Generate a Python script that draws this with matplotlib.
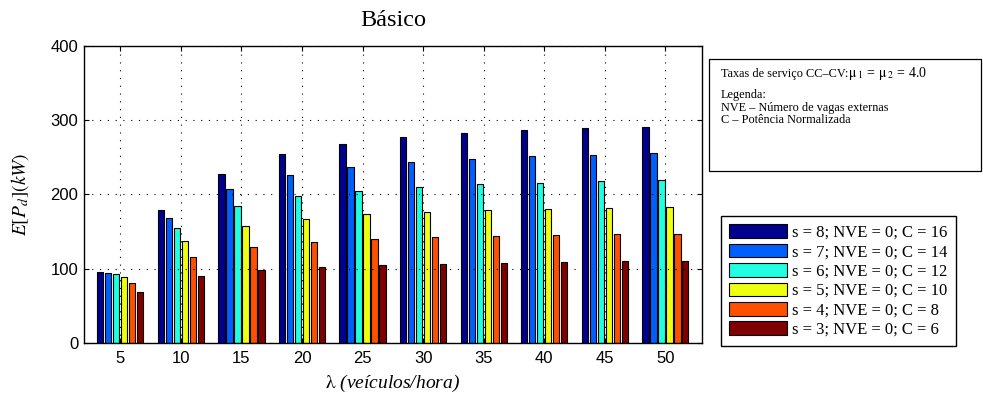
import numpy as np
import matplotlib
matplotlib.use("Agg")
import matplotlib.pyplot as plt
from matplotlib.patches import Rectangle, Patch

plt.rcParams['mathtext.fontset'] = 'stix'

lambdas = [5, 10, 15, 20, 25, 30, 35, 40, 45, 50]
series_labels = [
    's = 8; NVE = 0; C = 16',
    's = 7; NVE = 0; C = 14',
    's = 6; NVE = 0; C = 12',
    's = 5; NVE = 0; C = 10',
    's = 4; NVE = 0; C = 8',
    's = 3; NVE = 0; C = 6',
]
s8 = [95.2, 178.3, 227.9, 253.9, 268.2, 276.6, 282.0, 286.5, 289.2, 290.9]
s7 = [94.7, 168.5, 206.9, 226.6, 237.3, 243.6, 248.0, 251.2, 253.4, 255.2]
s6 = [92.5, 155.1, 183.7, 197.5, 205.1, 210.5, 213.6, 215.9, 217.7, 219.4]
s5 = [88.9, 137.2, 157.3, 167.2, 173.0, 176.5, 178.8, 180.6, 181.9, 183.2]
s4 = [81.3, 115.3, 128.7, 135.4, 139.4, 142.1, 143.5, 144.8, 146.1, 146.6]
s3 = [68.8, 89.8, 98.8, 102.8, 105.5, 106.8, 108.2, 109.1, 110.4, 110.4]
series = [s8, s7, s6, s5, s4, s3]
yticks = [0, 100, 200, 300, 400]

# MATLAB-style jet colours
colors = ['#00008F', '#0060FF', '#20FFDF', '#EFFF10', '#FF5000', '#800000']

W, H = 983, 395
fig = plt.figure(figsize=(W / 100, H / 100), dpi=100)
ax = fig.add_axes([84 / W, 1 - 343 / H, (701.7 - 84) / W, (343 - 45.7) / H])

x = np.arange(1, len(lambdas) + 1)
pitch = 0.132
bw = 0.104
handles = []
for i, vals in enumerate(series):
    off = (i - (len(series) - 1) / 2) * pitch
    ax.bar(x + off, vals, width=bw, color=colors[i], edgecolor='black',
           linewidth=0.8, zorder=2)
    handles.append(Patch(facecolor=colors[i], edgecolor='black', linewidth=0.8))

ax.set_xlim(0.4, len(lambdas) + 0.6)
ax.set_ylim(0, 400)
ax.set_xticks(x)
ax.set_xticklabels([str(v) for v in lambdas])
ax.set_yticks(yticks)
ax.grid(True, linestyle=(0, (1, 6)), color='black', linewidth=0.8)
ax.set_axisbelow(False)
ax.tick_params(direction='in', top=True, right=True, length=3.6, width=0.8,
               labelsize=12)
ax.tick_params(axis='x', pad=6)
ax.tick_params(axis='y', pad=4)
for lab in ax.get_xticklabels() + ax.get_yticklabels():
    lab.set_family('Liberation Sans')
for sp in ax.spines.values():
    sp.set_linewidth(1.0)

ax.set_xlabel(r'$\mathrm{\lambda}$ (veículos/hora)', family='Liberation Serif',
              style='italic', fontsize=14, va='center')
ax.xaxis.set_label_coords(0.5, (343 - 383) / (343 - 45.7))
ax.set_ylabel(r'$E[P_d](kW)$', fontsize=14, va='center')
ax.yaxis.set_label_coords((20 - 84) / (701.7 - 84), 0.5)

fig.text(393 / W, 1 - 20 / H, 'Básico', family='Liberation Serif', fontsize=17.5,
         ha='center', va='center')

# info box
fig.patches.append(Rectangle((708.7 / W, 1 - 170.7 / H), (981 - 708.7) / W,
                             (170.7 - 59.3) / H, transform=fig.transFigure,
                             facecolor='white', edgecolor='black', linewidth=0.9))
tx = 720.7 / W
fig.text(tx, 1 - 74 / H, 'Taxas de serviço CC–CV:',
         family='Liberation Serif', fontsize=8.8, va='center')
fig.text(848 / W, 1 - 74 / H, r'$\mathrm{\mu}_{\ 1}$ = $\mathrm{\mu}_{\ 2}$ = 4.0',
         family='Liberation Serif', fontsize=10, va='center')
fig.text(tx, 1 - 95 / H, 'Legenda:', family='Liberation Serif', fontsize=8.8, va='center')
fig.text(tx, 1 - 107.5 / H, 'NVE – Número de vagas externas', family='Liberation Serif',
         fontsize=8.8, va='center')
fig.text(tx, 1 - 120 / H, 'C – Potência Normalizada', family='Liberation Serif',
         fontsize=8.8, va='center')

leg = fig.legend(handles, series_labels, loc='upper left',
                 bbox_to_anchor=(720.7 / W, 1 - 216 / H), borderaxespad=0,
                 prop={'family': 'Liberation Serif', 'size': 12},
                 handlelength=3.45, handleheight=0.88, handletextpad=0.34,
                 borderpad=0.5, labelspacing=0.17, fancybox=False,
                 edgecolor='black', framealpha=1)
leg.get_frame().set_linewidth(1.0)

fig.savefig('out.png', dpi=100)
